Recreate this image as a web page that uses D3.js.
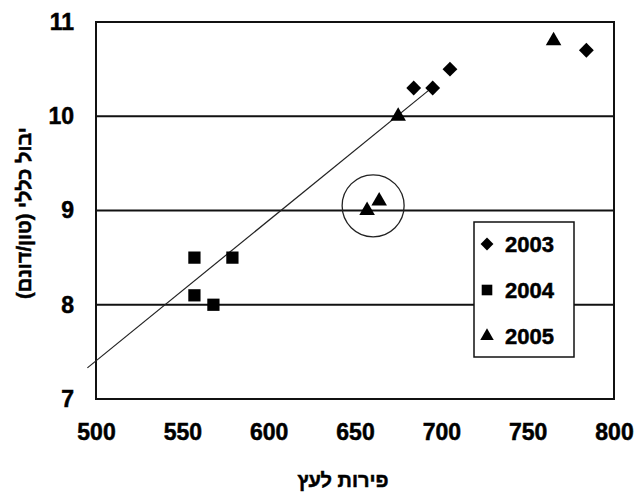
<!DOCTYPE html>
<html>
<head>
<meta charset="utf-8">
<script src="https://cdn.jsdelivr.net/npm/d3@7"></script>
<style>
  html, body { margin: 0; padding: 0; background: #fff; }
  svg { display: block; }
  text { font-family: "Liberation Sans", Arial, sans-serif; font-weight: bold; fill: #000; stroke: #000; stroke-width: 0.5px; }
</style>
</head>
<body>
<svg id="chart" width="636" height="499"></svg>
<script>
// Yield per tree vs. fruit count, by season
const years = ["2003", "2004", "2005"];

const fruits2003 = [684, 695, 705, 784];
const yield2003  = [10.3, 10.3, 10.5, 10.7];
const fruits2004 = [557, 557, 568, 579];
const yield2004  = [8.5, 8.1, 8.0, 8.5];
const fruits2005 = [657, 664, 675, 765];
const yield2005  = [9.0, 9.1, 10.0, 10.8];

// Trend line end points and the circled pair
const trendX = [495, 693];
const trendY = [7.33, 10.28];
const circleCenter = [660.5, 9.05];

const xTicks = [500, 550, 600, 650, 700, 750, 800];
const yTicks = [7, 8, 9, 10, 11];
const gridValues = [8, 9, 10];

const xTitle = "פירות לעץ";
const yTitle = "יבול כללי (טון/דונם)";

// A square turned 45° (equal width and height)
const symbolRhombus = {
  draw(ctx, size) {
    const r = Math.sqrt(size / 2);
    ctx.moveTo(0, -r);
    ctx.lineTo(r, 0);
    ctx.lineTo(0, r);
    ctx.lineTo(-r, 0);
    ctx.closePath();
  }
};

const shapes = [symbolRhombus, d3.symbolSquare, d3.symbolTriangle];
const symbolSizes = [110, 150, 105];

const series = [
  { name: years[0], xs: fruits2003, ys: yield2003 },
  { name: years[1], xs: fruits2004, ys: yield2004 },
  { name: years[2], xs: fruits2005, ys: yield2005 }
];

const svg = d3.select("#chart");
const plot = { left: 96, right: 614, top: 22, bottom: 399 };

const x = d3.scaleLinear().domain([500, 800]).range([plot.left, plot.right]);
const y = d3.scaleLinear().domain([7, 11]).range([plot.bottom, plot.top]);

// Horizontal gridlines
svg.append("g")
  .selectAll("line")
  .data(gridValues)
  .join("line")
  .attr("x1", plot.left).attr("x2", plot.right)
  .attr("y1", d => y(d)).attr("y2", d => y(d))
  .attr("stroke", "#111").attr("stroke-width", 2);

// Plot frame
svg.append("rect")
  .attr("x", plot.left).attr("y", plot.top)
  .attr("width", plot.right - plot.left).attr("height", plot.bottom - plot.top)
  .attr("fill", "none").attr("stroke", "#111").attr("stroke-width", 2);

// X axis labels
const xAxis = svg.append("g")
  .attr("transform", `translate(0,${plot.bottom})`)
  .call(d3.axisBottom(x).tickValues(xTicks).tickSize(0).tickPadding(25).tickFormat(d3.format("d")));
xAxis.select(".domain").remove();
xAxis.selectAll("text")
  .style("font-family", "'Liberation Sans', Arial, sans-serif")
  .style("font-weight", "bold").style("font-size", "23px").attr("fill", "#000");

// Y axis labels
const yAxis = svg.append("g")
  .attr("transform", `translate(${plot.left},0)`)
  .call(d3.axisLeft(y).tickValues(yTicks).tickSize(0).tickPadding(22).tickFormat(d3.format("d")));
yAxis.select(".domain").remove();
yAxis.selectAll("text")
  .style("font-family", "'Liberation Sans', Arial, sans-serif")
  .style("font-weight", "bold").style("font-size", "23px").attr("fill", "#000");

// Trend line
svg.append("line")
  .attr("x1", x(trendX[0])).attr("y1", y(trendY[0]))
  .attr("x2", x(trendX[1])).attr("y2", y(trendY[1]))
  .attr("stroke", "#222").attr("stroke-width", 1.2);

// Highlight circle
svg.append("circle")
  .attr("cx", x(circleCenter[0])).attr("cy", y(circleCenter[1]))
  .attr("r", 31)
  .attr("fill", "none").attr("stroke", "#222").attr("stroke-width", 1.3);

// Markers
series.forEach((s, i) => {
  const sym = d3.symbol().type(shapes[i]).size(symbolSizes[i]);
  svg.append("g")
    .selectAll("path")
    .data(s.xs.map((v, j) => [v, s.ys[j]]))
    .join("path")
    .attr("d", sym)
    .attr("transform", d => `translate(${x(d[0])},${y(d[1])})`)
    .attr("fill", "#000");
});

// Legend
const legend = svg.append("g").attr("transform", "translate(474,222)");
legend.append("rect")
  .attr("width", 100).attr("height", 135)
  .attr("fill", "#fff").attr("stroke", "#111").attr("stroke-width", 1.5);
series.forEach((s, i) => {
  const row = legend.append("g").attr("transform", `translate(0,${22 + i * 46})`);
  row.append("path")
    .attr("d", d3.symbol().type(shapes[i]).size(symbolSizes[i] * 0.75))
    .attr("transform", "translate(13,0)")
    .attr("fill", "#000");
  row.append("text")
    .attr("x", 31).attr("y", 0).attr("dy", "0.36em")
    .style("font-size", "22px")
    .text(s.name);
});

// Axis titles
svg.append("text")
  .attr("x", 343).attr("y", 487)
  .attr("text-anchor", "middle")
  .attr("direction", "rtl")
  .style("font-size", "20px")
  .text(xTitle);

svg.append("text")
  .attr("transform", "translate(24,213) rotate(-90)")
  .attr("text-anchor", "middle")
  .attr("dy", "0.35em")
  .attr("direction", "rtl")
  .style("font-size", "20px")
  .text(yTitle);
</script>
</body>
</html>
